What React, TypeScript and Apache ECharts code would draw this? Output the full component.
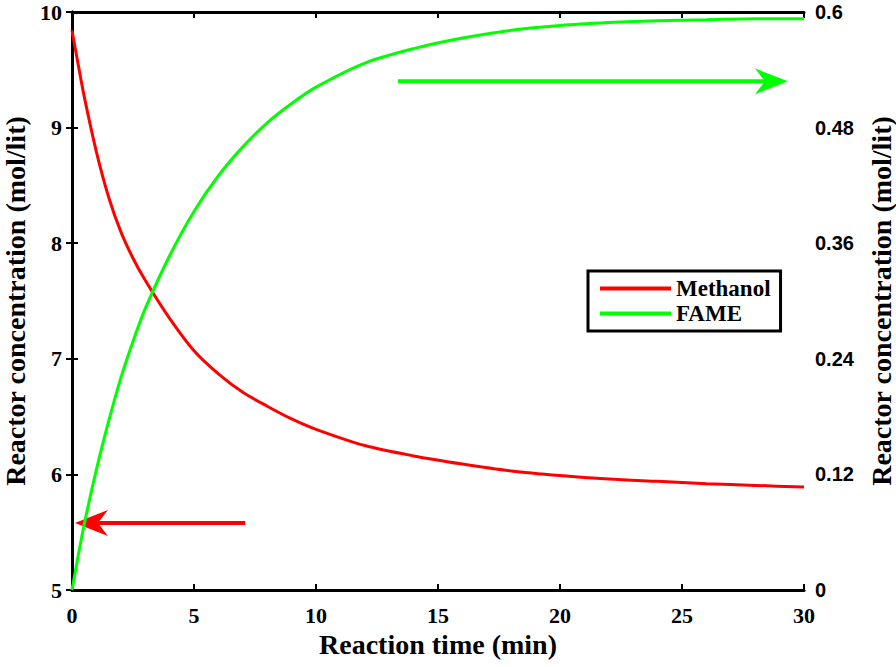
import React, { useEffect, useRef } from "react";
import * as echarts from "echarts";

const timeMin = [0, 0.25, 0.5, 1, 1.5, 2, 2.5, 3, 4, 5, 6, 7, 8, 9, 10, 12, 14, 16, 18, 20, 22, 24, 26, 28, 30];
const methanol = [9.84, 9.55, 9.27, 8.79, 8.4, 8.1, 7.87, 7.68, 7.35, 7.07, 6.87, 6.71, 6.59, 6.48, 6.39, 6.25, 6.16, 6.09, 6.03, 5.99, 5.96, 5.94, 5.92, 5.905, 5.89];
const fame = [0, 0.035, 0.068, 0.125, 0.175, 0.22, 0.258, 0.292, 0.347, 0.393, 0.43, 0.46, 0.485, 0.505, 0.522, 0.547, 0.562, 0.573, 0.581, 0.586, 0.589, 0.591, 0.592, 0.593, 0.593];
const xTicks = [0, 5, 10, 15, 20, 25, 30];
const leftTicks = [5, 6, 7, 8, 9, 10];
const rightTicks = [0, 0.12, 0.24, 0.36, 0.48, 0.6];
// annotation arrows: [xStart, yStart, xEnd, yEnd]
const methanolArrow = [[7.1, 5.58, 0.12, 5.58]];
const fameArrow = [[13.36, 0.528, 29.34, 0.528]];

const SERIF = "'Liberation Serif', 'Times New Roman', serif";
const SANS = "'Liberation Sans', Arial, sans-serif";

function arrowRender(color: string) {
  return (params: any, api: any) => {
    const p1 = api.coord([api.value(0), api.value(1)]);
    const p2 = api.coord([api.value(2), api.value(3)]);
    const dx = p2[0] - p1[0];
    const dy = p2[1] - p1[1];
    const len = Math.sqrt(dx * dx + dy * dy) || 1;
    const ux = dx / len;
    const uy = dy / len;
    const nx = -uy;
    const ny = ux;
    const L = 33;
    const W = 13;
    const N = 10;
    const base = [p2[0] - ux * (L - N), p2[1] - uy * (L - N)];
    return {
      type: "group",
      children: [
        {
          type: "line",
          shape: { x1: p1[0], y1: p1[1], x2: base[0], y2: base[1] },
          style: { stroke: color, lineWidth: 4 },
        },
        {
          type: "polygon",
          shape: {
            points: [
              [p2[0], p2[1]],
              [p2[0] - ux * L + nx * W, p2[1] - uy * L + ny * W],
              base,
              [p2[0] - ux * L - nx * W, p2[1] - uy * L - ny * W],
            ],
          },
          style: { fill: color },
        },
      ],
    };
  };
}

export default function App() {
  const ref = useRef<HTMLDivElement>(null);
  useEffect(() => {
    if (!ref.current) return;
    const chart = echarts.init(ref.current, undefined, { renderer: "svg" });
    const axisLine = { show: true, lineStyle: { color: "#000", width: 3 } };
    const tick = { show: true, inside: true, length: 6, lineStyle: { color: "#000", width: 2 } };
    chart.setOption({
      animation: false,
      backgroundColor: "#fff",
      grid: { left: 72, right: 92, top: 12, bottom: 77, containLabel: false, outerBoundsMode: "none" },
      legend: {
        orient: "vertical",
        left: 588,
        top: 271,
        data: ["Methanol", "FAME"],
        icon: "rect",
        itemWidth: 71,
        itemHeight: 4,
        itemGap: 2,
        padding: [6, 10, 6, 12],
        borderColor: "#000",
        borderWidth: 3,
        backgroundColor: "#fff",
        textStyle: { fontFamily: SERIF, fontWeight: "bold", fontSize: 23, color: "#000" },
      },
      xAxis: [
        {
          type: "value",
          min: 0,
          max: 30,
          interval: 5,
          position: "bottom",
          name: "Reaction time (min)",
          nameLocation: "middle",
          nameGap: 35,
          nameTextStyle: { fontFamily: SERIF, fontWeight: "bold", fontSize: 28, color: "#000" },
          axisLine,
          axisTick: tick,
          splitLine: { show: false },
          axisLabel: {
            fontFamily: SERIF,
            fontWeight: "bold",
            fontSize: 22,
            color: "#000",
            margin: 14,
            formatter: (v: number) => (xTicks.includes(v) ? String(v) : ""),
          },
        },
        {
          type: "value",
          min: 0,
          max: 30,
          interval: 5,
          position: "top",
          axisLine,
          axisTick: tick,
          axisLabel: { show: false },
          splitLine: { show: false },
        },
      ],
      yAxis: [
        {
          type: "value",
          min: 5,
          max: 10,
          interval: 1,
          position: "left",
          name: "Reactor concentration (mol/lit)",
          nameLocation: "middle",
          nameRotate: 90,
          nameGap: 42,
          nameTextStyle: { fontFamily: SERIF, fontWeight: "bold", fontSize: 28, color: "#000" },
          axisLine,
          axisTick: tick,
          splitLine: { show: false },
          axisLabel: {
            fontFamily: SERIF,
            fontWeight: "bold",
            fontSize: 22,
            color: "#000",
            margin: 10,
            formatter: (v: number) => (leftTicks.includes(v) ? String(v) : ""),
          },
        },
        {
          type: "value",
          min: 0,
          max: 0.6,
          interval: 0.12,
          position: "right",
          name: "Reactor concentration (mol/lit)",
          nameLocation: "middle",
          nameRotate: 90,
          nameGap: 63,
          nameTextStyle: { fontFamily: SERIF, fontWeight: "bold", fontSize: 28, color: "#000" },
          axisLine,
          axisTick: tick,
          splitLine: { show: false },
          axisLabel: {
            fontFamily: SANS,
            fontWeight: "bold",
            fontSize: 20,
            color: "#000",
            margin: 11,
            formatter: (v: number) => {
              const r = Math.round(v * 100) / 100;
              return rightTicks.some((t) => Math.abs(t - r) < 1e-6) ? String(r) : "";
            },
          },
        },
      ],
      series: [
        {
          name: "Methanol",
          type: "line",
          xAxisIndex: 0,
          yAxisIndex: 0,
          data: timeMin.map((t, i) => [t, methanol[i]]),
          showSymbol: false,
          smooth: 0.3,
          color: "#ff0000",
          lineStyle: { color: "#ff0000", width: 3 },
        },
        {
          name: "FAME",
          type: "line",
          xAxisIndex: 0,
          yAxisIndex: 1,
          data: timeMin.map((t, i) => [t, fame[i]]),
          showSymbol: false,
          smooth: 0.3,
          color: "#00ff00",
          lineStyle: { color: "#00ff00", width: 3 },
        },
        {
          name: "methanolArrow",
          type: "custom",
          xAxisIndex: 0,
          yAxisIndex: 0,
          clip: false,
          silent: true,
          encode: { x: [0, 2], y: [1, 3] },
          data: methanolArrow,
          renderItem: arrowRender("#ff0000"),
        },
        {
          name: "fameArrow",
          type: "custom",
          xAxisIndex: 0,
          yAxisIndex: 1,
          clip: false,
          silent: true,
          encode: { x: [0, 2], y: [1, 3] },
          data: fameArrow,
          renderItem: arrowRender("#00ff00"),
        },
      ],
    });
    return () => chart.dispose();
  }, []);
  return (
    <div
      ref={ref}
      style={{ position: "absolute", left: 0, top: 0, width: 896, height: 667 }}
    />
  );
}
